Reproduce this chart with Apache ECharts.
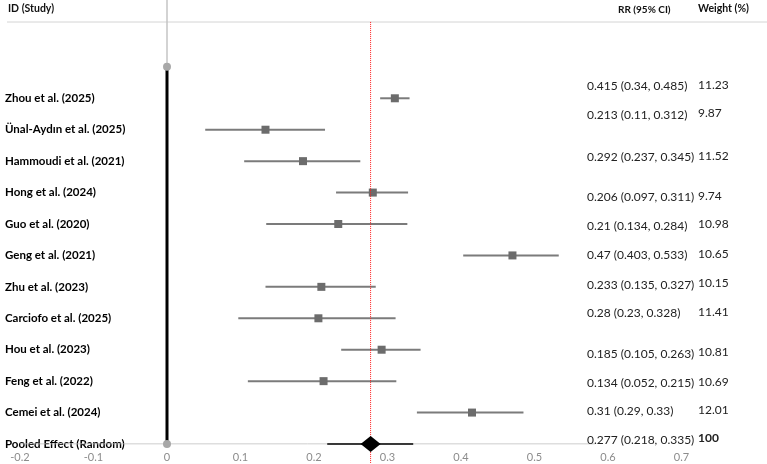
<!DOCTYPE html>
<html>
<head>
<meta charset="utf-8">
<script src="https://cdn.jsdelivr.net/npm/echarts@6/dist/echarts.min.js"></script>
<style>
  html, body { margin: 0; padding: 0; background: #fff; }
  #forest { width: 767px; height: 464px; }
</style>
</head>
<body>
<div id="forest"></div>
<script>
// study rows, top to bottom
const studies = [
  "Zhou et al. (2025)", "Ünal-Aydın et al. (2025)", "Hammoudi et al. (2021)",
  "Hong et al. (2024)", "Guo et al. (2020)", "Geng et al. (2021)",
  "Zhu et al. (2023)", "Carciofo et al. (2025)", "Hou et al. (2023)",
  "Feng et al. (2022)", "Cemei et al. (2024)"
];
// values printed in the RR (95% CI) / Weight columns
const rr     = [0.415, 0.213, 0.292, 0.206, 0.21, 0.47, 0.233, 0.28, 0.185, 0.134, 0.31];
const ciLow  = [0.34, 0.11, 0.237, 0.097, 0.134, 0.403, 0.135, 0.23, 0.105, 0.052, 0.29];
const ciHigh = [0.485, 0.312, 0.345, 0.311, 0.284, 0.533, 0.327, 0.328, 0.263, 0.215, 0.33];
const weights = [11.23, 9.87, 11.52, 9.74, 10.98, 10.65, 10.15, 11.41, 10.81, 10.69, 12.01];

// estimates as they are drawn on each row of the plot
const plotEst  = [0.31, 0.134, 0.185, 0.28, 0.233, 0.47, 0.21, 0.206, 0.292, 0.213, 0.415];
const plotLow  = [0.29, 0.052, 0.105, 0.23, 0.135, 0.403, 0.134, 0.097, 0.237, 0.11, 0.34];
const plotHigh = [0.33, 0.215, 0.263, 0.328, 0.327, 0.533, 0.284, 0.311, 0.345, 0.312, 0.485];

const pooledLabel = "Pooled Effect (Random)";
const pooled = { rr: 0.277, low: 0.218, high: 0.335, weight: 100 };

const xTicks = [-0.2, -0.1, 0, 0.1, 0.2, 0.3, 0.4, 0.5, 0.6, 0.7];

// layout only: vertical nudge (px) of the table text against each row
const textShift = [-12, -15, -4, 5, 2, 0, -2, -5, 4, 2, -1, -4];

const FONT = "Lato, 'Open Sans', sans-serif";
const pooledRow = studies.length + 1;

const tableRows = studies.map((s, i) => [i + 1, `${rr[i]} (${ciLow[i]}, ${ciHigh[i]})`, String(weights[i]), 0]);
tableRows.push([pooledRow, `${pooled.rr} (${pooled.low}, ${pooled.high})`, String(pooled.weight), 1]);

const option = {
  animation: false,
  grid: { left: 20, right: 85.5, top: 4, bottom: 20 },
  xAxis: {
    type: "value",
    min: xTicks[0],
    max: xTicks[xTicks.length - 1],
    interval: 0.1,
    axisLine: { show: false },
    axisTick: { show: false },
    splitLine: { show: false },
    axisLabel: {
      color: "#8c8c8c", fontSize: 11, fontFamily: FONT, margin: 8,
      formatter: (v) => String(+v.toFixed(1))
    }
  },
  yAxis: {
    type: "value",
    inverse: true,
    min: -2,
    max: pooledRow,
    interval: 1,
    axisLine: { show: false },
    axisTick: { show: false },
    splitLine: { show: false },
    axisLabel: {
      align: "left", margin: 15, color: "#000", fontWeight: "bold",
      fontSize: 11.5, fontFamily: FONT,
      formatter: (v) => v >= 1 && v <= studies.length ? studies[v - 1] : (v === pooledRow ? pooledLabel : "")
    }
  },
  graphic: [
    { type: "line", shape: { x1: 7, y1: 22, x2: 767, y2: 22 }, style: { stroke: "#d4d4d4", lineWidth: 1 } },
    { type: "text", left: 8, top: 3, style: { text: "ID (Study)", font: "bold 10.5px " + FONT, fill: "#111" } },
    { type: "text", left: 618, top: 5, style: { text: "RR (95% CI)", font: "bold 10px " + FONT, fill: "#111" } },
    { type: "text", left: 698, top: 3, style: { text: "Weight (%)", font: "bold 10.5px " + FONT, fill: "#111" } }
  ],
  series: [
    {
      // baseline under pooled row
      type: "line", silent: true, symbol: "none", z: 1,
      data: [[xTicks[0], pooledRow], [0.582, pooledRow]],
      lineStyle: { color: "#bdbdbd", width: 1 }
    },
    {
      // thin grey axis above the null line
      type: "line", silent: true, symbol: "none", clip: false, z: 1,
      data: [[0, -2.15], [0, 0]],
      lineStyle: { color: "#c4c4c4", width: 1.5 }
    },
    {
      // null line
      type: "line", silent: true, z: 3,
      data: [[0, 0], [0, pooledRow]],
      symbol: "circle", symbolSize: 8,
      itemStyle: { color: "#a8a8a8" },
      lineStyle: { color: "#000", width: 3 }
    },
    {
      type: "custom", z: 4,
      data: studies.map((s, i) => [i + 1, plotEst[i], plotLow[i], plotHigh[i]]),
      encode: { y: 0, x: [1, 2, 3] },
      renderItem: (params, api) => {
        const row = api.value(0);
        const a = api.coord([api.value(2), row]);
        const b = api.coord([api.value(3), row]);
        const c = api.coord([api.value(1), row]);
        return {
          type: "group",
          children: [
            { type: "line", shape: { x1: a[0], y1: a[1], x2: b[0], y2: b[1] }, style: { stroke: "#7b7b7b", lineWidth: 2 } },
            { type: "rect", shape: { x: c[0] - 4, y: c[1] - 4, width: 8, height: 8 }, style: { fill: "#6c6c6c" } }
          ]
        };
      }
    },
    {
      // pooled effect line
      type: "line", silent: true, symbol: "none", clip: false, z: 5,
      data: [[pooled.rr, -1.43], [pooled.rr, 12.65]],
      lineStyle: { color: "#ff1a1a", width: 1, type: [1, 1] }
    },
    {
      type: "custom", z: 6,
      data: [[pooledRow, pooled.rr, pooled.low, pooled.high]],
      encode: { y: 0, x: [1, 2, 3] },
      renderItem: (params, api) => {
        const row = api.value(0);
        const a = api.coord([api.value(2), row]);
        const b = api.coord([api.value(3), row]);
        const c = api.coord([api.value(1), row]);
        return {
          type: "group",
          children: [
            { type: "line", shape: { x1: a[0], y1: a[1], x2: b[0], y2: b[1] }, style: { stroke: "#000", lineWidth: 1.5 } },
            { type: "polygon", shape: { points: [[c[0] - 10, c[1]], [c[0], c[1] - 8], [c[0] + 10, c[1]], [c[0], c[1] + 8]] }, style: { fill: "#000" } }
          ]
        };
      }
    },
    {
      // RR / weight table on the right
      type: "custom", z: 7, clip: false,
      data: tableRows,
      encode: { y: 0 },
      renderItem: (params, api) => {
        const i = params.dataIndex;
        const row = tableRows[i];
        const y = api.coord([0, row[0]])[1] + textShift[i];
        const bold = row[3] === 1;
        return {
          type: "group",
          children: [
            { type: "text", style: { x: 587, y: y, text: row[1], font: "12px " + FONT, fill: "#222", verticalAlign: "middle" } },
            { type: "text", style: { x: 698, y: y - 1.5, text: row[2], font: (bold ? "bold " : "") + "12px " + FONT, fill: "#222", verticalAlign: "middle" } }
          ]
        };
      }
    }
  ]
};

const chart = echarts.init(document.getElementById("forest"));
chart.setOption(option);
window.addEventListener("resize", () => chart.resize());
</script>
</body>
</html>
